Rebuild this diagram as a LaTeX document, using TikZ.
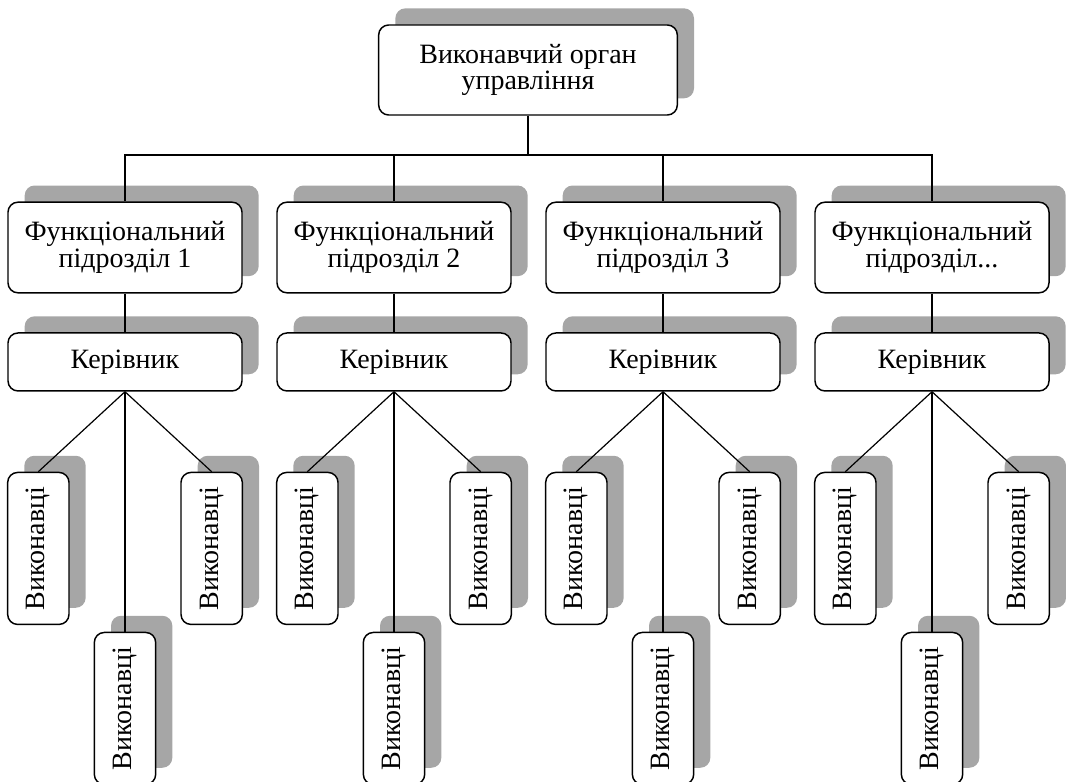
\documentclass[tikz,border=0pt]{standalone}
\usepackage{fontspec}
\setmainfont{Liberation Serif}
\usepackage{graphicx}
\usetikzlibrary{positioning,shadows}

\begin{document}
\begin{tikzpicture}
            [
            x=0.75pt, y=-0.75pt,
            box/.style={rectangle, rounded corners=7.5pt, draw, line width=1.1pt,
                fill=white, align=center, inner sep=0pt,
                font=\fontsize{21}{20}\selectfont,
                drop shadow={shadow xshift=12.5pt, shadow yshift=12.5pt,
                    fill=black!35, opacity=1}},
            unit/.style={box, minimum width=175.5pt, minimum height=68pt},
            head/.style={box, minimum width=175.5pt, minimum height=43.5pt},
            worker/.style={box, minimum width=46pt, minimum height=114pt},
            link/.style={line width=0.9pt}
            ]
            \useasboundingbox (0,0) rectangle (1066,781);

            \node (top) [box, minimum width=224pt, minimum height=67.5pt] at (528,70)
                {Виконавчий орган\\управління};
            \coordinate (bus) at (528,155);
            \draw [link] (top) -- (bus);

            \foreach \i/\txt in {1/{підрозділ 1}, 2/{підрозділ 2}, 3/{підрозділ 3}, 4/{підрозділ...}}{
                \node (f\i) [unit] at (125+269*\i-269, 247.5) {Функціональний\\\txt};
                \node (k\i) [below=29pt of f\i, head] {Керівник};

                % three groups of workers under each head
                \node (l\i) [below=60pt of k\i, xshift=-65pt, worker] {\rotatebox{90}{Виконавці}};
                \node (r\i) [below=60pt of k\i, xshift=65pt, worker] {\rotatebox{90}{Виконавці}};
                \node (m\i) [below=180pt of k\i, worker] {\rotatebox{90}{Виконавці}};

                \draw [link] (f\i.north) |- (bus);
                \draw [link] (f\i) -- (k\i);
                \draw [link] (k\i.south) -- (l\i.north);
                \draw [link] (k\i.south) -- (r\i.north);
                \draw [link] (k\i.south) -- (m\i.north);
            }

        \end{tikzpicture}
\end{document}
